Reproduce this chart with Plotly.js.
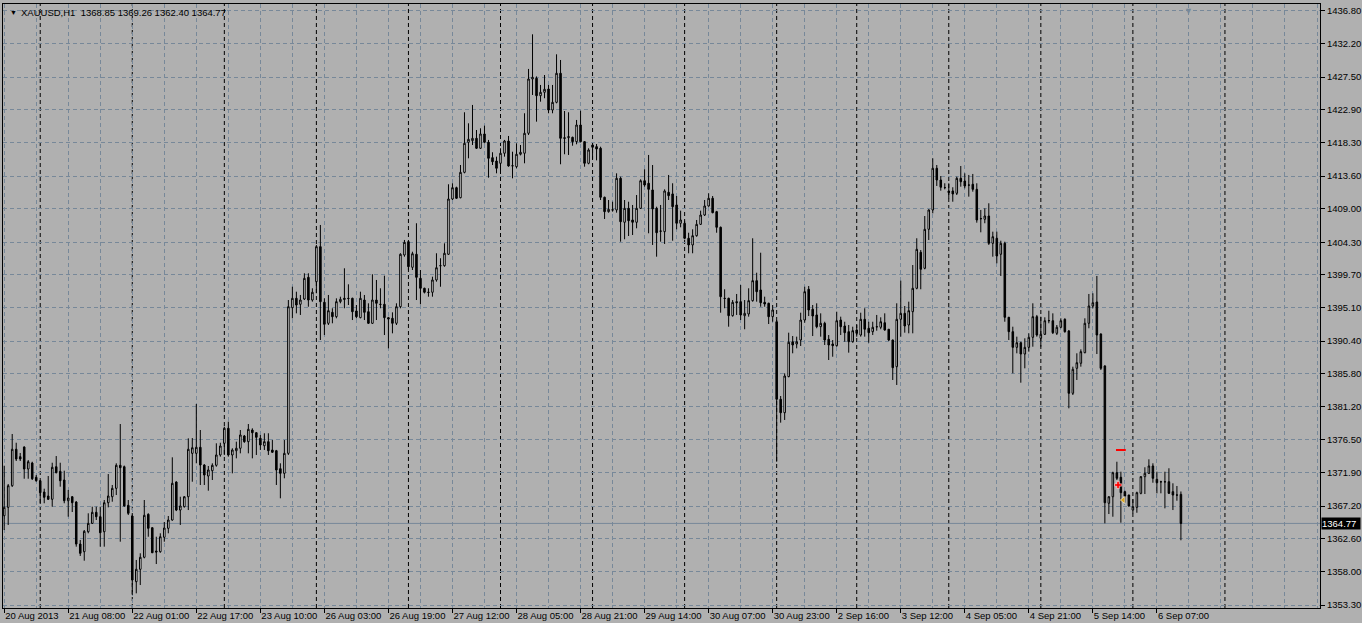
<!DOCTYPE html>
<html>
<head>
<meta charset="utf-8">
<script src="https://cdn.plot.ly/plotly-3.0.1.min.js"></script>
<style>
  html, body { margin: 0; padding: 0; background: #b0b0b0; }
  #chart { width: 1362px; height: 623px; }
</style>
</head>
<body>
<div id="chart"></div>
<script>
// ---- Data: XAUUSD H1 candles ----
const symbolName = "XAUUSD,H1";

const open = [
1365.85,1367.03,1370.07,1375.19,1374.15,1375.51,1372.42,1373.26,1371.25,1370.77,
1369.18,1368.62,1368.16,1372.74,1372.09,1370.87,1367.96,1368.52,1367.78,1361.87,
1360.79,1363.60,1364.78,1366.33,1365.71,1363.60,1367.68,1368.52,1369.70,1372.94,
1372.74,1367.31,1365.81,1356.58,1358.32,1360.01,1366.05,1364.17,1360.89,1360.79,
1362.82,1364.08,1365.25,1370.59,1366.65,1367.12,1368.52,1374.62,1374.62,1375.47,
1372.98,1371.43,1372.18,1372.94,1374.39,1376.03,1378.14,1374.39,1374.99,1375.33,
1377.06,1376.26,1377.90,1377.52,1376.73,1375.69,1376.26,1375.09,1374.99,1372.46,
1371.81,1374.62,1395.09,1396.41,1395.57,1396.31,1399.36,1396.17,1398.75,1403.67,
1395.85,1392.90,1394.44,1393.83,1395.94,1396.41,1396.41,1396.41,1394.63,1393.69,
1396.17,1394.53,1392.90,1396.17,1395.57,1395.57,1393.69,1393.60,1392.90,1395.23,
1402.50,1404.37,1400.77,1402.60,1399.22,1397.82,1397.26,1397.26,1398.99,1400.99,
1400.99,1402.60,1410.37,1411.96,1410.55,1414.12,1418.34,1418.57,1418.90,1417.50,
1419.51,1418.34,1416.18,1415.71,1415.39,1416.80,1418.52,1415.05,1414.91,1416.66,
1416.80,1419.61,1427.24,1427.34,1424.89,1425.37,1425.83,1422.88,1423.96,1428.04,
1418.99,1418.99,1419.04,1418.43,1420.77,1418.43,1415.39,1417.96,1417.73,1417.50,
1410.61,1408.59,1408.85,1408.83,1413.28,1407.10,1409.06,1407.42,1407.10,1409.06,
1412.94,1412.58,1411.64,1409.06,1405.87,1405.78,1411.31,1411.08,1409.53,1406.96,
1406.96,1404.85,1403.91,1405.21,1406.81,1408.12,1409.39,1410.47,1408.59,1406.39,
1396.41,1396.41,1393.97,1395.94,1395.94,1393.97,1394.21,1396.08,1398.89,1397.58,
1395.85,1395.71,1393.83,1393.12,1382.22,1380.33,1385.40,1390.31,1389.99,1390.55,
1393.36,1397.68,1394.87,1394.07,1392.42,1392.90,1390.65,1389.99,1389.75,1393.36,
1392.52,1391.72,1390.31,1391.96,1391.25,1393.46,1392.20,1391.72,1392.42,1392.34,
1392.98,1392.06,1390.55,1386.80,1393.46,1394.30,1392.66,1394.53,1397.82,1402.88,
1400.63,1406.11,1408.83,1414.69,1413.04,1411.96,1411.50,1411.50,1411.17,1413.28,
1412.90,1412.34,1412.44,1411.73,1407.62,1407.52,1407.98,1404.14,1404.85,1402.60,
1404.14,1393.74,1391.72,1389.52,1390.17,1388.58,1389.52,1390.93,1393.83,1390.79,
1391.35,1393.26,1393.26,1391.49,1392.34,1393.46,1391.82,1383.06,1386.57,1387.28,
1388.77,1392.90,1395.33,1395.89,1391.39,1386.90,1367.60,1368.52,1371.90,1371.25,
1369.23,1368.76,1366.65,1367.03,1369.00,1371.34,1371.81,1372.84,1370.97,1370.63,
1370.63,1370.63,1369.23,1368.77,1368.85
];
const high = [
1372.88,1370.31,1377.34,1376.11,1374.67,1375.60,1373.68,1373.44,1371.57,1370.87,
1369.65,1371.43,1373.30,1374.24,1373.30,1372.18,1369.47,1368.60,1367.90,1362.44,
1363.84,1366.19,1367.12,1367.12,1367.12,1368.06,1371.71,1370.17,1373.22,1378.74,
1372.90,1368.06,1366.00,1359.63,1360.57,1368.06,1366.19,1364.20,1362.90,1363.38,
1364.97,1365.81,1374.06,1370.70,1368.52,1368.60,1376.73,1376.77,1381.55,1377.90,
1373.10,1372.84,1373.22,1376.03,1376.11,1378.36,1379.07,1375.33,1376.26,1377.90,
1377.20,1378.74,1378.14,1377.60,1377.20,1377.44,1377.44,1376.49,1375.10,1373.22,
1376.49,1396.17,1398.04,1397.34,1396.88,1399.93,1399.93,1397.82,1403.91,1406.72,
1396.41,1396.88,1395.01,1396.41,1396.64,1400.63,1398.38,1396.50,1395.47,1397.34,
1396.88,1395.71,1399.79,1398.99,1397.82,1399.59,1393.80,1394.44,1395.71,1402.74,
1404.61,1404.50,1402.96,1406.96,1400.39,1397.90,1397.82,1399.45,1402.74,1402.04,
1404.14,1412.44,1412.58,1412.10,1415.15,1422.56,1421.01,1423.59,1420.07,1420.31,
1420.68,1418.67,1416.94,1416.32,1417.50,1418.67,1419.23,1417.02,1418.20,1417.96,
1422.42,1428.65,1433.52,1427.60,1426.40,1427.80,1426.40,1426.40,1430.71,1429.91,
1422.74,1422.56,1419.13,1421.48,1422.78,1418.50,1417.50,1418.20,1418.10,1417.72,
1410.70,1410.23,1409.99,1413.98,1413.51,1410.23,1409.99,1409.53,1410.93,1413.14,
1414.55,1416.56,1415.15,1409.29,1409.53,1411.73,1413.75,1412.58,1410.79,1408.73,
1407.32,1405.63,1406.11,1407.42,1408.73,1410.23,1411.17,1410.79,1408.70,1406.50,
1397.68,1396.50,1396.17,1397.02,1398.28,1396.17,1397.82,1404.85,1400.01,1402.82,
1396.64,1395.80,1395.47,1393.36,1382.68,1385.87,1391.58,1391.11,1391.02,1394.39,
1398.04,1398.14,1395.47,1395.71,1394.30,1393.12,1391.25,1390.55,1394.53,1393.83,
1393.12,1392.66,1392.42,1392.66,1394.39,1395.01,1393.12,1393.12,1394.07,1393.74,
1394.30,1392.10,1390.60,1395.71,1398.89,1395.33,1395.94,1401.09,1404.85,1403.20,
1407.98,1408.92,1416.09,1415.15,1413.60,1412.58,1412.58,1412.02,1413.51,1415.01,
1413.98,1413.75,1413.89,1412.58,1408.83,1409.06,1409.77,1405.78,1405.78,1404.51,
1404.37,1393.80,1392.42,1391.02,1390.30,1390.79,1391.49,1395.71,1394.07,1393.83,
1393.74,1394.67,1394.30,1392.66,1393.60,1393.60,1391.96,1386.80,1388.68,1389.24,
1393.60,1397.02,1397.12,1399.55,1391.49,1387.00,1368.60,1372.04,1373.44,1372.04,
1369.37,1368.80,1368.16,1369.23,1371.43,1372.66,1373.78,1373.22,1372.04,1370.77,
1372.04,1372.52,1370.41,1370.03,1369.26
];
const low = [
1363.84,1364.55,1369.90,1373.54,1373.54,1371.05,1371.05,1370.87,1370.63,1367.50,
1367.60,1368.06,1367.12,1371.81,1369.93,1367.60,1365.71,1366.37,1361.50,1360.19,
1359.53,1363.38,1364.69,1365.25,1361.50,1361.50,1367.03,1367.82,1368.76,1362.20,
1367.12,1365.95,1354.71,1354.94,1356.11,1359.86,1362.90,1360.60,1359.06,1360.65,
1362.20,1363.38,1365.15,1366.50,1364.55,1367.00,1366.65,1370.63,1373.22,1370.17,
1370.17,1369.37,1370.87,1372.74,1374.15,1374.39,1374.15,1371.81,1373.92,1374.62,
1376.10,1374.62,1373.92,1374.39,1375.09,1375.09,1374.39,1374.70,1370.17,1368.30,
1371.11,1374.39,1393.60,1394.30,1394.07,1396.17,1395.23,1395.94,1397.12,1390.55,
1391.25,1392.66,1392.90,1393.60,1395.71,1395.01,1395.47,1393.36,1393.60,1393.60,
1393.36,1392.80,1392.80,1393.36,1395.01,1391.25,1389.38,1391.49,1392.66,1395.01,
1402.26,1400.39,1400.39,1396.17,1395.57,1397.10,1396.64,1396.64,1398.75,1398.04,
1400.86,1402.50,1410.23,1410.40,1410.47,1413.98,1416.09,1417.96,1417.40,1417.40,
1418.20,1413.37,1415.15,1413.98,1414.21,1416.32,1414.91,1413.28,1414.69,1416.50,
1415.39,1419.37,1424.99,1421.24,1424.05,1424.53,1422.42,1422.42,1423.82,1415.25,
1416.66,1416.56,1417.86,1418.06,1418.34,1414.91,1415.25,1416.00,1415.80,1410.23,
1407.56,1408.45,1408.59,1408.45,1404.37,1404.71,1405.17,1405.31,1406.25,1408.97,
1412.10,1405.55,1403.91,1402.26,1404.37,1404.05,1410.23,1404.51,1406.11,1406.39,
1404.71,1402.74,1402.74,1405.07,1406.72,1407.98,1409.29,1408.36,1405.63,1394.39,
1395.01,1392.42,1393.83,1394.07,1393.36,1392.06,1393.83,1395.94,1395.94,1395.23,
1395.23,1392.80,1393.12,1373.44,1378.93,1379.31,1385.31,1388.68,1389.38,1389.71,
1392.98,1393.92,1391.11,1392.20,1391.02,1389.85,1387.74,1388.20,1389.61,1391.25,
1390.31,1388.77,1390.17,1391.02,1391.02,1391.02,1390.17,1391.25,1391.86,1392.06,
1391.86,1390.40,1384.93,1384.23,1391.02,1391.58,1391.49,1391.49,1397.68,1397.68,
1400.49,1404.61,1408.36,1412.20,1411.54,1411.73,1410.47,1409.99,1410.93,1412.10,
1411.87,1410.70,1411.40,1407.04,1405.69,1406.96,1403.91,1402.26,1401.33,1399.55,
1393.12,1390.55,1385.87,1388.68,1384.55,1386.57,1388.91,1389.61,1391.02,1389.61,
1391.25,1392.90,1391.39,1391.25,1392.20,1391.58,1380.95,1382.82,1384.93,1386.80,
1388.68,1392.20,1395.01,1388.58,1386.33,1364.78,1366.09,1365.71,1370.87,1364.87,
1367.68,1367.12,1366.19,1366.27,1368.86,1368.90,1371.71,1370.49,1369.00,1369.00,
1366.89,1368.90,1366.65,1367.96,1362.40
];
const close = [
1367.03,1370.07,1375.19,1373.82,1373.82,1372.42,1373.44,1371.05,1370.77,1369.09,
1368.44,1368.16,1372.66,1371.90,1370.77,1367.96,1368.34,1367.68,1361.87,1360.57,
1363.66,1364.78,1366.33,1365.71,1363.46,1367.68,1368.62,1369.70,1372.94,1372.60,
1367.22,1366.19,1356.81,1358.32,1360.01,1365.91,1364.08,1360.65,1360.75,1362.90,
1364.12,1365.25,1370.41,1366.65,1367.22,1368.52,1375.19,1375.41,1375.47,1372.98,
1371.57,1372.28,1372.94,1374.39,1375.65,1378.14,1374.39,1375.09,1375.33,1377.20,
1376.26,1378.00,1377.52,1376.87,1375.79,1376.26,1374.99,1374.77,1372.28,1371.81,
1374.62,1395.23,1396.41,1395.47,1396.17,1399.22,1396.17,1397.26,1403.67,1395.94,
1392.76,1394.67,1393.83,1395.94,1396.27,1396.27,1396.38,1394.53,1393.83,1396.41,
1394.44,1392.90,1396.17,1395.71,1395.55,1393.69,1393.50,1392.90,1395.23,1402.60,
1404.28,1400.86,1402.68,1399.36,1397.82,1397.26,1397.24,1398.99,1400.71,1401.00,
1402.74,1410.37,1411.96,1410.47,1414.12,1418.20,1418.76,1418.90,1417.50,1419.51,
1418.34,1416.09,1415.61,1414.69,1416.80,1418.52,1415.01,1415.03,1416.66,1416.94,
1419.61,1427.24,1427.48,1424.89,1425.37,1425.79,1422.88,1423.96,1428.04,1418.90,
1418.90,1419.13,1418.43,1420.77,1418.43,1415.39,1417.26,1417.64,1417.40,1410.61,
1408.59,1408.92,1408.83,1413.28,1407.18,1409.06,1407.32,1407.10,1409.06,1412.94,
1412.34,1411.73,1408.97,1405.63,1405.85,1411.50,1410.84,1409.29,1406.96,1407.42,
1404.85,1403.91,1405.21,1406.81,1408.12,1409.39,1410.47,1408.45,1406.39,1396.64,
1396.39,1393.97,1395.85,1395.80,1394.07,1394.30,1396.08,1398.89,1397.34,1395.79,
1395.61,1393.83,1394.77,1382.22,1380.33,1385.49,1390.23,1389.85,1390.31,1393.36,
1397.34,1394.77,1393.92,1392.42,1392.90,1390.55,1389.85,1389.75,1393.26,1392.42,
1391.58,1390.31,1391.86,1391.49,1393.46,1392.06,1391.58,1392.34,1392.40,1393.12,
1391.96,1390.55,1386.66,1393.46,1394.30,1392.52,1394.67,1397.82,1403.30,1400.49,
1406.11,1408.83,1414.69,1413.04,1412.02,1411.98,1411.26,1411.08,1413.28,1412.80,
1412.20,1412.32,1411.73,1407.42,1407.60,1407.98,1404.14,1405.07,1402.36,1404.14,
1393.74,1391.72,1389.52,1390.17,1388.58,1389.52,1390.93,1393.83,1391.25,1391.35,
1393.26,1393.28,1391.58,1392.34,1393.26,1391.72,1383.06,1386.43,1387.36,1388.91,
1392.90,1395.33,1395.79,1391.25,1386.57,1367.68,1368.52,1371.90,1371.11,1369.09,
1368.62,1367.22,1367.12,1369.09,1371.34,1371.81,1372.84,1371.11,1370.49,1370.61,
1370.61,1369.00,1368.76,1368.75,1364.77
];

// time-axis labels (every 16 bars) and the bar index each one sits on
const xTickLabels = ["20 Aug 2013","21 Aug 08:00","22 Aug 01:00","22 Aug 17:00","23 Aug 10:00",
  "26 Aug 03:00","26 Aug 19:00","27 Aug 12:00","28 Aug 05:00","28 Aug 21:00","29 Aug 14:00",
  "30 Aug 07:00","30 Aug 23:00","2 Sep 16:00","3 Sep 12:00","4 Sep 05:00","4 Sep 21:00",
  "5 Sep 14:00","6 Sep 07:00"];
const xTickIdx = [0,16,32,48,64,80,96,112,128,144,160,176,192,208,224,240,256,272,288];

// price-axis labels
const yTickLabels = ["1353.30","1358.00","1362.60","1367.20","1371.90","1376.50","1381.20",
  "1385.80","1390.40","1395.10","1399.70","1404.30","1409.00","1413.60","1418.30","1422.90",
  "1427.50","1432.20","1436.80"];

// first bar of each trading day (period separators)
const dayStartIdx = [9,32,55,78,101,124,147,170,193,213,236,259,282,305];

// trade marks on the chart
const tradeLevelIdx = [279],   tradeLevelPrice = [1375.09];
const tradeOpenIdx = [278.3],  tradeOpenPrice = [1370.17];
const tradeArrowIdx = [279.6], tradeArrowPrice = [1368.06];

// ---- Build ----
const barIdx = open.map((_, i) => i);
const last = open.length - 1;
const gridColor = '#778899';
const dash = '4px,3px';
const bg = '#b0b0b0';

const traces = [
  {
    type: 'candlestick',
    x: barIdx, open: open, high: high, low: low, close: close,
    increasing: { line: { color: '#000', width: 1 }, fillcolor: '#ffffff' },
    decreasing: { line: { color: '#000', width: 1 }, fillcolor: '#000000' },
    whiskerwidth: 0,
    hoverinfo: 'skip',
    showlegend: false
  },
  { type: 'scatter', mode: 'markers', x: tradeLevelIdx, y: tradeLevelPrice,
    marker: { symbol: 'line-ew', size: 7, color: '#ff0000', line: { color: '#ff0000', width: 2 } },
    hoverinfo: 'skip', showlegend: false },
  { type: 'scatter', mode: 'markers', x: tradeOpenIdx, y: tradeOpenPrice,
    marker: { symbol: 'cross', size: 6, color: '#ff0000', line: { color: '#ffffff', width: 0.5 } },
    hoverinfo: 'skip', showlegend: false },
  { type: 'scatter', mode: 'markers', x: tradeArrowIdx, y: tradeArrowPrice,
    marker: { symbol: 'triangle-left', size: 6, color: '#daa520', line: { color: '#ffffff', width: 0.5 } },
    hoverinfo: 'skip', showlegend: false }
];

const shapes = dayStartIdx.map(i => ({
  type: 'line', xref: 'x', yref: 'paper', x0: i, x1: i, y0: 0, y1: 1,
  line: { color: '#000', width: 1, dash: dash }, layer: 'below'
}));
shapes.push({
  type: 'line', xref: 'paper', yref: 'y', x0: 0, x1: 1, y0: close[last], y1: close[last],
  line: { color: gridColor, width: 1 }, layer: 'below'
});

const nb = '\u00a0';
const titleText = symbolName + nb + nb +
  [open[last], high[last], low[last], close[last]].map(v => v.toFixed(2)).join(nb);

const annotations = [
  { xref: 'paper', yref: 'paper', x: 0.0035, y: 0.986, xanchor: 'left', yanchor: 'middle',
    text: '▼', showarrow: false, font: { size: 7, color: '#000' } },
  { xref: 'paper', yref: 'paper', x: 0.0118, y: 0.986, xanchor: 'left', yanchor: 'middle',
    text: titleText, showarrow: false,
    font: { family: 'Liberation Sans, Arial, sans-serif', size: 9.5, color: '#000' } },
  { xref: 'x', yref: 'paper', x: 295.9, y: 1, xanchor: 'center', yanchor: 'top',
    text: '▼', showarrow: false, font: { size: 9, color: gridColor } },
  { xref: 'paper', yref: 'y', x: 1, y: close[last], xanchor: 'left', yanchor: 'middle',
    xshift: 1, text: close[last].toFixed(2), showarrow: false,
    bgcolor: '#000', width: 38, height: 11, borderpad: 0, align: 'left',
    font: { family: 'Liberation Sans, Arial, sans-serif', size: 9.5, color: '#ffffff' } }
];

const layout = {
  width: 1362, height: 623,
  margin: { l: 3, r: 42, t: 4, b: 15, pad: 0 },
  paper_bgcolor: bg, plot_bgcolor: bg,
  showlegend: false,
  boxgap: 0.45,
  font: { family: 'Liberation Sans, Arial, sans-serif', size: 9.5, color: '#000' },
  xaxis: {
    type: 'linear', range: [-0.3, 328.75], rangeslider: { visible: false },
    tickmode: 'array', tickvals: xTickIdx, ticktext: xTickLabels,
    tickangle: 0, ticklabelposition: 'outside right', ticklabelstandoff: -1,
    ticks: 'outside', ticklen: 4, tickcolor: '#000', tickwidth: 1,
    showline: true, linecolor: '#000', linewidth: 1, mirror: true,
    showgrid: true, gridcolor: gridColor, griddash: dash, gridwidth: 1,
    zeroline: false, fixedrange: true,
    minor: { tick0: 0, dtick: 8, showgrid: true, gridcolor: gridColor, griddash: dash, gridwidth: 1, ticks: '' }
  },
  yaxis: {
    side: 'right', range: [1352.88, 1437.78],
    tickmode: 'array', tickvals: yTickLabels.map(Number), ticktext: yTickLabels,
    ticks: 'outside', ticklen: 4, tickcolor: '#000', tickwidth: 1,
    showline: true, linecolor: '#000', linewidth: 1, mirror: true,
    showgrid: true, gridcolor: gridColor, griddash: dash, gridwidth: 1,
    zeroline: false, fixedrange: true
  },
  shapes: shapes,
  annotations: annotations
};

Plotly.newPlot('chart', traces, layout, { displayModeBar: false, staticPlot: true });
</script>
</body>
</html>
